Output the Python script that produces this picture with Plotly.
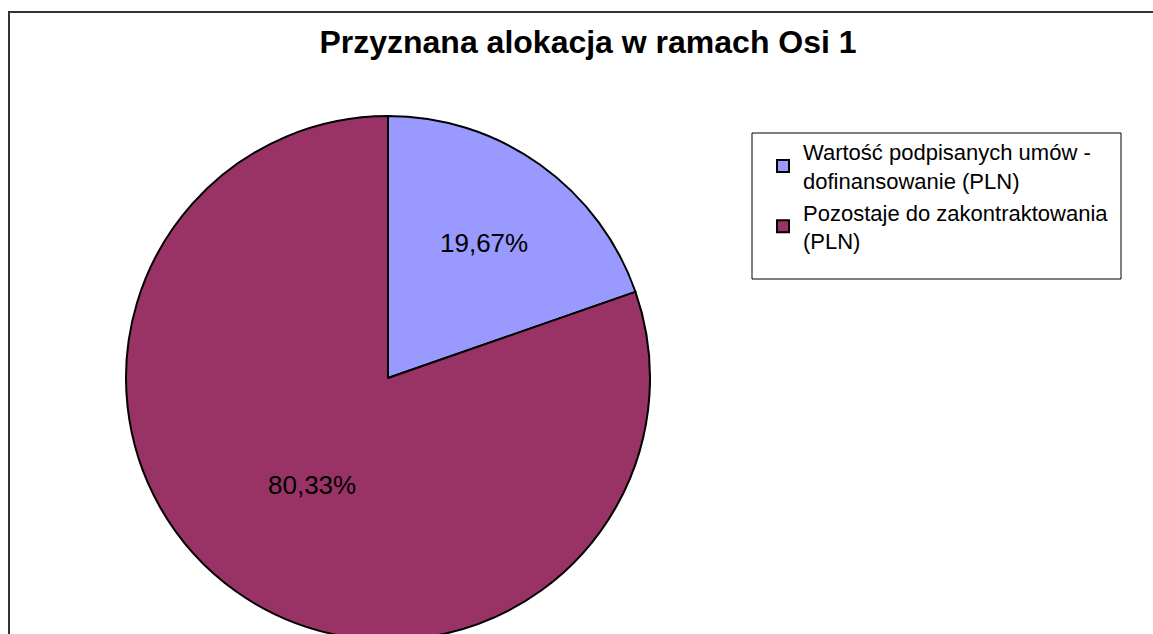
import plotly.graph_objects as go

labels = ["Wartość podpisanych umów -<br>dofinansowanie (PLN)", "Pozostaje do zakontraktowania<br>(PLN)"]
values = [19.67, 80.33]
colors = ["#9999FF", "#993366"]
title_text = "Przyznana alokacja w ramach Osi 1"

# figure is a bit taller than the window; the page clips it like the reference
W, H = 1153, 660

def px_x(x):
    return x / W

def px_y(y):
    return 1 - y / H

fig = go.Figure()
fig.add_trace(go.Pie(
    labels=labels,
    values=values,
    sort=False,
    direction="clockwise",
    rotation=0,
    marker=dict(colors=colors, line=dict(color="black", width=2)),
    textinfo="percent",
    texttemplate="%{percent:.2%}",
    textposition="inside",
    insidetextorientation="horizontal",
    insidetextfont=dict(family="Liberation Sans, Arial", size=26, color="black"),
    domain=dict(x=[px_x(126), px_x(650)], y=[px_y(640), px_y(116)]),
    hoverinfo="label+percent",
))

fig.update_layout(
    width=W, height=H,
    separators=", ",
    margin=dict(l=0, r=0, t=0, b=0),
    paper_bgcolor="white",
    plot_bgcolor="white",
    font=dict(family="Liberation Sans, Arial", color="black"),
    title=dict(text="<b>" + title_text + "</b>", x=px_x(588), xanchor="center",
               y=px_y(42), yanchor="middle",
               font=dict(size=32, family="Liberation Sans, Arial", color="black")),
    showlegend=True,
    legend=dict(x=px_x(763), y=px_y(131), xanchor="left", yanchor="top",
                font=dict(size=22, family="Liberation Sans, Arial", color="black"),
                bgcolor="rgba(0,0,0,0)", borderwidth=0,
                itemwidth=30),
    shapes=[
        dict(type="line", xref="paper", yref="paper",
             x0=px_x(9), x1=px_x(9), y0=0, y1=px_y(11),
             line=dict(color="#333333", width=2), layer="below"),
        dict(type="line", xref="paper", yref="paper",
             x0=px_x(8), x1=px_x(1160), y0=px_y(12), y1=px_y(12),
             line=dict(color="#333333", width=2), layer="below"),
        dict(type="rect", xref="paper", yref="paper",
             x0=px_x(752), x1=px_x(1121), y0=px_y(279), y1=px_y(133),
             line=dict(color="black", width=1), fillcolor="rgba(0,0,0,0)"),
    ],
)

fig.write_html(
    "out.html",
    config={"displayModeBar": False},
    post_script="document.body.style.margin='0';document.body.style.overflow='hidden';",
)
